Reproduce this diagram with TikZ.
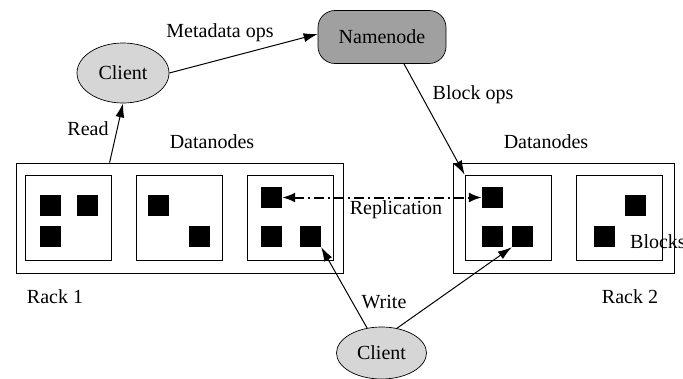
\documentclass[tikz,border=0pt]{standalone}
\usepackage{fontspec}
\setmainfont{Liberation Serif}
\newfontfamily\tmsfont{Liberation Serif}
\usetikzlibrary{shapes.geometric,arrows.meta}
\definecolor{clientgray}{HTML}{D6D6D6}
\definecolor{namegray}{HTML}{A0A0A0}
\tikzset{
  lbl/.style={font=\tmsfont\fontsize{20}{24}\selectfont, inner sep=0pt},
  client/.style={ellipse, draw, line width=0.7pt, fill=clientgray, minimum width=92pt, minimum height=60pt, inner sep=0pt, font=\tmsfont\fontsize{20}{24}\selectfont},
  master/.style={rectangle, rounded corners=17pt, draw, line width=0.7pt, fill=namegray, minimum width=128pt, minimum height=53pt, inner sep=0pt, font=\tmsfont\fontsize{20}{24}\selectfont},
  rack/.style={rectangle, draw, line width=0.8pt, inner sep=0pt},
  dnode/.style={rectangle, draw, line width=0.8pt, inner sep=0pt, minimum width=86pt, minimum height=85pt},
  blk/.style={rectangle, fill=black, inner sep=0pt, minimum width=21pt, minimum height=21pt},
  arr/.style={line width=1pt, -{Latex[length=14pt,width=9pt]}},
  repl/.style={line width=2pt, dash pattern=on 10pt off 4pt on 2pt off 4pt, {Latex[length=13pt,width=10pt]}-{Latex[length=13pt,width=10pt]}}
}
\begin{document}
\begin{tikzpicture}[x=1pt,y=-1pt]
\useasboundingbox (0,0) rectangle (683,378);

% top client and name node
\node[client] (c1) at (123,73) {Client};
\node[master] (nn) at (382,37) {Namenode};

% rack 1 with three datanodes
\node[rack, minimum width=327pt, minimum height=110pt] (rack1) at (179.5,218) {};
\node[dnode] (d1) at (68.5,217.5) {};
\node[dnode] (d2) at (179.5,217.5) {};
\node[dnode] (d3) at (290,217.5) {};
\node[blk] (a1) at (50,205.5) {};
\node[blk] (a2) at (87.5,205.5) {};
\node[blk] (a3) at (50,236.5) {};
\node[blk] (b1) at (158.5,205.5) {};
\node[blk] (b2) at (199.5,236.5) {};
\node[blk] (e1) at (271.5,197.5) {};
\node[blk] (e2) at (271.5,236.5) {};
\node[blk] (e3) at (310.5,236.5) {};

% rack 2 with two datanodes
\node[rack, minimum width=221pt, minimum height=110pt] (rack2) at (563.5,218) {};
\node[dnode] (d4) at (508,217.5) {};
\node[dnode] (d5) at (619,217.5) {};
\node[blk] (f1) at (492.5,197.5) {};
\node[blk] (f2) at (492.5,236.5) {};
\node[blk] (f3) at (522.5,236.5) {};
\node[blk] (g1) at (635.5,205.5) {};
\node[blk] (g2) at (604.5,236.5) {};

% bottom client
\node[client, minimum width=90pt, minimum height=52pt] (c2) at (381.5,353) {Client};

% labels
\node[lbl] (lmeta) at (220,33) {Metadata ops};
\node[lbl] (lread) at (88,129) {Read};
\node[lbl] (ldn1) at (212,142) {Datanodes};
\node[lbl] (lblock) at (473,95) {Block ops};
\node[lbl] (ldn2) at (546,142) {Datanodes};
\node[lbl] (lrepl) at (396,210) {Replication};
\node[lbl, anchor=west] (lblocks) at (630,242) {Blocks};
\node[lbl] (lrack1) at (55,297) {Rack 1};
\node[lbl] (lrack2) at (630,297) {Rack 2};
\node[lbl] (lwrite) at (384,302) {Write};

% connectors
\coordinate (readfrom) at ([xshift=94pt]rack1.north west);
\draw[arr] (readfrom) -- (c1.south);
\draw[arr] (c1.east) -- ([yshift=3pt]nn.west);
\draw[arr] ([xshift=22pt]nn.south) -- (d4.north west);
\draw[repl] (e1.east) -- (f1.west);
\draw[arr] (c2.120) -- (e3.south east);
\draw[arr] (c2.58) -- (f3.south west);
\end{tikzpicture}
\end{document}
